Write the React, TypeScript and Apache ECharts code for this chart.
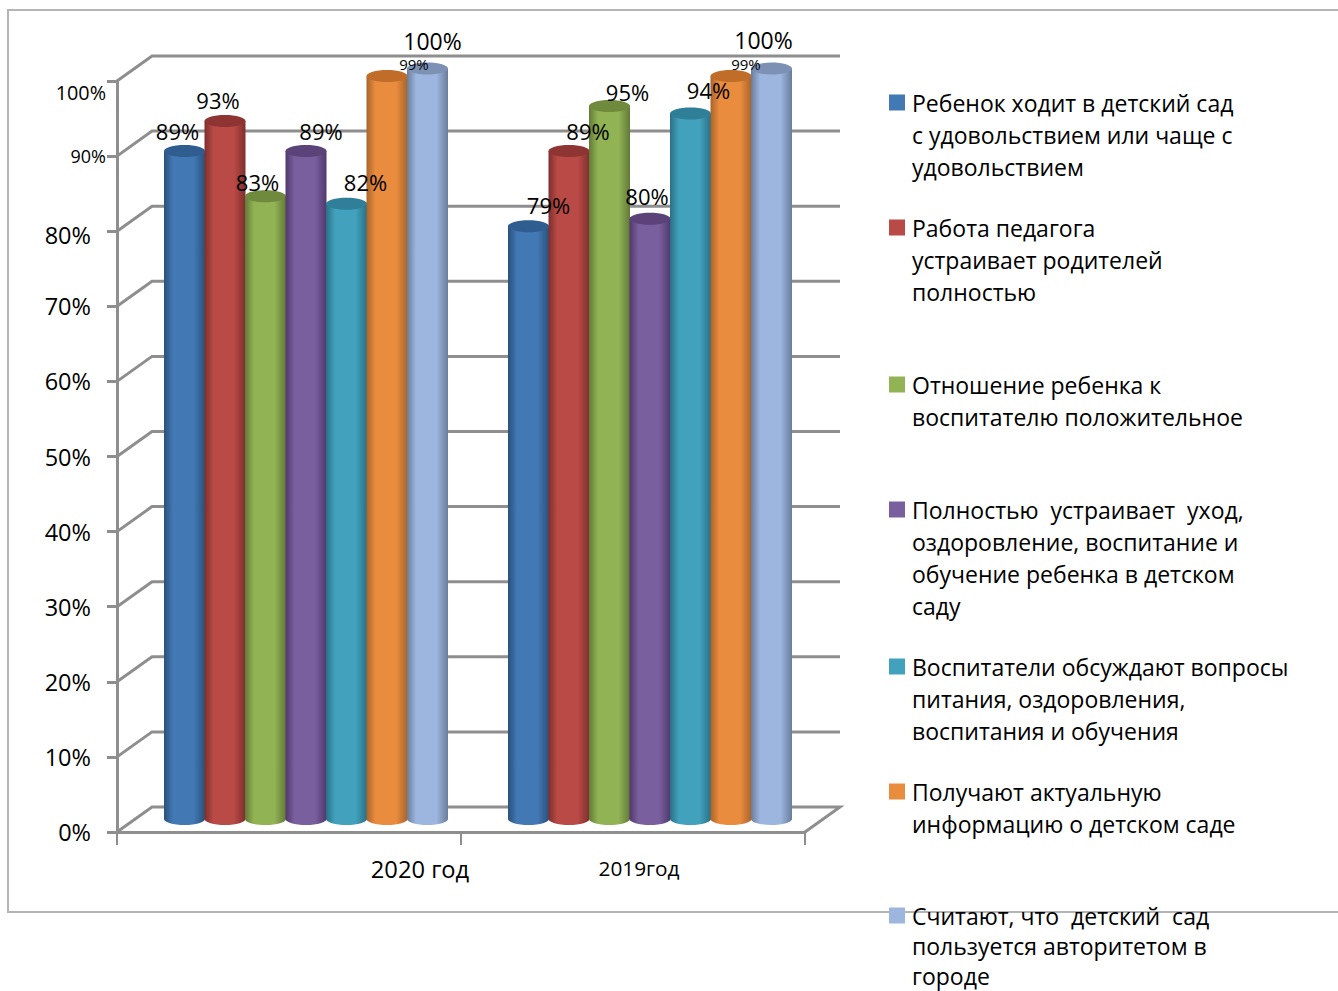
import React, { useEffect, useRef } from "react";
import * as echarts from "echarts";

const categories = ["2020 год", "2019год"];
const seriesNames = [
  "Ребенок ходит в детский сад\nс удовольствием или чаще с\nудовольствием",
  "Работа педагога\nустраивает родителей\nполностью",
  "Отношение ребенка к\nвоспитателю положительное",
  "Полностью  устраивает  уход,\nоздоровление, воспитание и\nобучение ребенка в детском\nсаду",
  "Воспитатели обсуждают вопросы\nпитания, оздоровления,\nвоспитания и обучения",
  "Получают актуальную\nинформацию о детском саде",
  "Считают, что  детский  сад\nпользуется авторитетом в\nгороде",
];
const values = [
  [89, 79],
  [93, 89],
  [83, 95],
  [89, 80],
  [82, 94],
  [99, 99],
  [100, 100],
];
const wallTicks = [0, 10, 20, 30, 40, 50, 60, 70, 80, 90, 100];

const barColors = ["#4279b4", "#b94a46", "#92b354", "#7a5f9e", "#42a2bd", "#ea8c3e", "#9db6df"];
const barDark = ["#2b507a", "#7e2f2d", "#627a37", "#50396d", "#2a7086", "#a9642a", "#6a7c9a"];
const barTop = ["#2f5d8f", "#8e3533", "#6f8a3c", "#5b4279", "#2f7f98", "#c06d29", "#7d91b5"];
// Label offset from the top of each cylinder, [series][category] -> [dx, dy]
const labelNudges = [
  [[-7, -20], [20, -21]],
  [[-7, -21], [19, -20]],
  [[-8, -14], [18, -14]],
  [[15, -20], [-3, -23]],
  [[19, -22], [18, -24]],
  [[27, -12], [15, -12]],
  [[5, -28], [-8, -29]],
];
const labelSizes = [22, 22, 22, 22, 22, 15, 23];
const legendCentres = [102.5, 227.5, 384.5, 509.5, 666.5, 791.5, 915.5];
const legendLineHeights = [32.3, 32.3, 32.3, 32.3, 32.3, 32.3, 30];

const DEPTH_X = 35;
const DEPTH_Y = 25;
const BAR_STEP = 40.5;
const BAR_HALF = 20.5;
const RY = 6;
const GREY = "#8e8e8e";
const FONT = "Open Sans";

export default function App() {
  const ref = useRef<HTMLDivElement>(null);
  useEffect(() => {
    document.documentElement.style.margin = "0";
    document.body.style.margin = "0";
    document.body.style.overflow = "hidden";
    const chart = echarts.init(ref.current!, null, { renderer: "svg" });

    const wall: any = {
      type: "custom",
      silent: true,
      z: 1,
      data: wallTicks.map((v) => [0, v]),
      renderItem: (params: any, api: any) => {
        const v = api.value(1);
        const y = api.coord([0, v])[1];
        const cs = params.coordSys;
        const pts: number[][] = [
          [cs.x, y],
          [cs.x + DEPTH_X, y - DEPTH_Y],
          [cs.x + cs.width + DEPTH_X, y - DEPTH_Y],
        ];
        if (v === 0) pts.push([cs.x + cs.width, y]);
        return {
          type: "polyline",
          shape: { points: pts },
          style: { fill: "none", stroke: GREY, lineWidth: 3 },
        };
      },
    };

    const bars: any[] = seriesNames.map((name, si) => ({
      type: "custom",
      name,
      z: 3,
      itemStyle: { color: barColors[si] },
      data: values[si].map((v, ci) => [ci, v]),
      renderItem: (_p: any, api: any) => {
        const ci = api.value(0);
        const v = api.value(1);
        const top = api.coord([ci, v]);
        const base = api.coord([ci, 0]);
        const cx = top[0] + DEPTH_X / 2 + (si - 3) * BAR_STEP - 0.5;
        const yt = top[1] - 12.5;
        const yb = base[1] - 13;
        const grad = new echarts.graphic.LinearGradient(0, 0, 1, 0, [
          { offset: 0, color: barDark[si] },
          { offset: 0.22, color: barColors[si] },
          { offset: 0.72, color: barColors[si] },
          { offset: 1, color: barDark[si] },
        ]);
        const [dx, dy] = labelNudges[si][ci];
        return {
          type: "group",
          children: [
            { type: "ellipse", shape: { cx, cy: yb, rx: BAR_HALF, ry: RY }, style: { fill: grad } },
            { type: "rect", shape: { x: cx - BAR_HALF, y: yt, width: BAR_HALF * 2, height: yb - yt }, style: { fill: grad } },
            { type: "ellipse", shape: { cx, cy: yt, rx: BAR_HALF, ry: RY }, style: { fill: barTop[si] } },
            {
              type: "text",
              z2: 100,
              style: {
                x: cx + dx,
                y: yt + dy,
                text: v + "%",
                align: "center",
                verticalAlign: "middle",
                fontFamily: FONT,
                fontSize: labelSizes[si],
                fill: "#000",
              },
            },
          ],
        };
      },
    }));

    const legends: any[] = seriesNames.map((name, i) => {
      const n = name.split("\n").length;
      const lh = legendLineHeights[i];
      return {
        data: [name],
        left: 889,
        top: legendCentres[i] - ((2 * n - 1) * lh) / 2,
        padding: 0,
        itemWidth: 16,
        itemHeight: 16,
        icon: "rect",
        selectedMode: false,
        orient: "vertical",
        formatter: (s: string) => "\n".repeat(n - 1) + s,
        textStyle: {
          fontFamily: FONT,
          fontSize: 23,
          lineHeight: lh,
          color: "#000",
          padding: [0, 0, 0, 2],
        },
      };
    });

    const yRich: any = {
      n: { fontFamily: FONT, fontSize: 23.5, color: "#000", padding: [0, 15, 0, 0] },
      e: { fontFamily: FONT, fontSize: 23.5, color: "#000", padding: [8, 15, 0, 0] },
      s: { fontFamily: FONT, fontSize: 18, color: "#000", padding: [0, 0, 0, 0] },
      t: { fontFamily: FONT, fontSize: 19.8, color: "#000", padding: [22, 0, 0, 0] },
    };

    chart.setOption({
      animation: false,
      backgroundColor: "#fff",
      tooltip: { show: false },
      legend: legends,
      grid: { left: 117, top: 81, width: 688, height: 751, containLabel: false },
      xAxis: {
        type: "category",
        data: categories,
        axisLine: { show: true, onZero: false, lineStyle: { color: GREY, width: 3 } },
        axisTick: { show: true, length: 13, lineStyle: { color: GREY, width: 2 } },
        axisLabel: {
          interval: 0,
          margin: 25,
          formatter: (v: string) => (v === categories[0] ? `{a|${v}}` : `{b|${v}}`),
          rich: {
            a: { fontFamily: FONT, fontSize: 23.7, color: "#000", padding: [0, 0, 0, 262] },
            b: { fontFamily: FONT, fontSize: 20.8, color: "#000", padding: [0, 0, 0, 12] },
          },
        },
      },
      yAxis: {
        type: "value",
        min: 0,
        max: 100,
        interval: 10,
        splitLine: { show: false },
        axisLine: { show: true, lineStyle: { color: GREY, width: 3 } },
        axisTick: { show: true, length: 10, lineStyle: { color: GREY, width: 3 } },
        axisLabel: {
          margin: 11,
          formatter: (v: number) => {
            const cls = v === 100 ? "t" : v === 90 ? "s" : v === 80 ? "e" : "n";
            return `{${cls}|${v}%}`;
          },
          rich: yRich,
        },
      },
      graphic: [
        {
          type: "rect",
          z: -1,
          silent: true,
          shape: { x: 8, y: 10, width: 1400, height: 902 },
          style: { fill: "none", stroke: "#b4b4b4", lineWidth: 2 },
        },
      ],
      series: [wall, ...bars],
    });
    return () => chart.dispose();
  }, []);
  return <div ref={ref} style={{ width: 1338, height: 991 }} />;
}
